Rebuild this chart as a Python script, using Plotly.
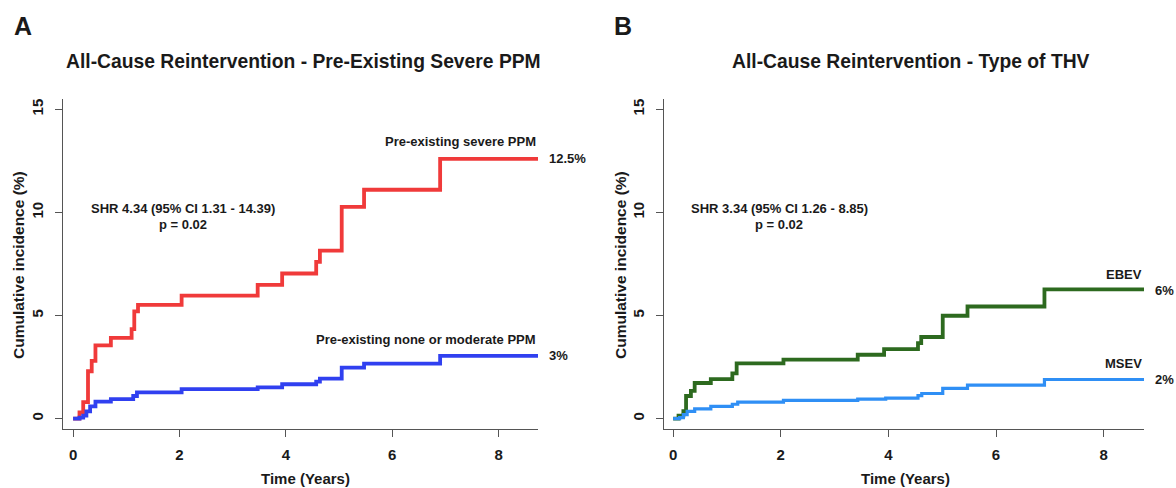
import plotly.graph_objects as go

# Panel A: Pre-existing severe PPM vs none/moderate
a_sev_t = [0.0, 0.12, 0.19, 0.28, 0.35, 0.42, 0.71, 1.10, 1.15, 1.22, 2.04, 3.47, 3.93, 4.57, 4.64, 5.05, 5.47, 6.90, 8.74]
a_sev_y = [0.0, 0.3, 0.8, 2.3, 2.8, 3.55, 3.92, 4.34, 5.2, 5.52, 5.97, 6.49, 7.04, 7.6, 8.15, 10.27, 11.1, 12.6, 12.6]
a_mod_t = [0.0, 0.12, 0.19, 0.25, 0.32, 0.42, 0.71, 1.13, 1.20, 2.04, 3.47, 3.93, 4.57, 4.64, 5.05, 5.47, 6.90, 8.74]
a_mod_y = [0.0, 0.05, 0.15, 0.35, 0.6, 0.83, 0.95, 1.1, 1.28, 1.43, 1.52, 1.67, 1.8, 1.94, 2.48, 2.67, 3.05, 3.05]

# Panel B: EBEV vs MSEV
b_ebev_t = [0.0, 0.10, 0.19, 0.24, 0.33, 0.40, 0.70, 1.10, 1.18, 2.05, 3.43, 3.92, 4.55, 4.61, 5.01, 5.47, 6.90, 8.75]
b_ebev_y = [0.0, 0.15, 0.36, 1.1, 1.35, 1.73, 1.92, 2.2, 2.68, 2.86, 3.1, 3.37, 3.66, 3.96, 4.99, 5.44, 6.27, 6.27]
b_msev_t = [0.0, 0.12, 0.19, 0.26, 0.40, 0.70, 1.10, 1.20, 2.05, 3.43, 3.95, 4.55, 4.62, 5.01, 5.47, 6.90, 8.75]
b_msev_y = [0.0, 0.05, 0.2, 0.35, 0.48, 0.6, 0.7, 0.8, 0.89, 0.95, 1.0, 1.12, 1.22, 1.47, 1.63, 1.9, 1.9]

x_ticks = [0, 2, 4, 6, 8]
y_ticks = [0, 5, 10, 15]

W, H = 1176, 488
FONT = "Liberation Sans, Arial, sans-serif"
TXT = "#1a1a1a"

fig = go.Figure()

def step(x, y, color, width, xa, ya):
    fig.add_trace(go.Scatter(x=x, y=y, mode="lines", line=dict(color=color, width=width, shape="hv"),
                             xaxis=xa, yaxis=ya, showlegend=False, hoverinfo="skip"))

step(a_sev_t, a_sev_y, "#f03a3a", 3.8, "x", "y")
step(a_mod_t, a_mod_y, "#3040f0", 3.8, "x", "y")
step(b_ebev_t, b_ebev_y, "#2d6a1f", 3.8, "x2", "y2")
step(b_msev_t, b_msev_y, "#2f8ff5", 3.2, "x2", "y2")

def px_x(a, b):
    return [a / W, b / W]

def px_y(top, bottom):
    return [1 - bottom / H, 1 - top / H]

axis_common = dict(showline=True, linecolor="#555555", linewidth=1.3, ticks="outside", ticklen=7,
                   tickcolor="#555555", tickwidth=1.2, showgrid=False, zeroline=False,
                   tickfont=dict(family=FONT, size=15, color=TXT), fixedrange=True)

fig.update_layout(
    width=W, height=H, margin=dict(l=0, r=0, t=0, b=0),
    paper_bgcolor="white", plot_bgcolor="white",
    xaxis=dict(domain=px_x(63, 538), range=[-0.19, 8.74], tickvals=x_ticks,
               ticktext=[f"<b>{v}</b>" for v in x_ticks], anchor="y", ticklabelstandoff=5, **axis_common),
    yaxis=dict(domain=px_y(99, 429), range=[-0.5, 15.5], tickvals=y_ticks,
               ticktext=[f"<b>{v}</b>" for v in y_ticks], tickangle=-90, anchor="x", ticklabelstandoff=6, **axis_common),
    xaxis2=dict(domain=px_x(664, 1144), range=[-0.17, 8.75], tickvals=x_ticks,
                ticktext=[f"<b>{v}</b>" for v in x_ticks], anchor="y2", ticklabelstandoff=5, **axis_common),
    yaxis2=dict(domain=px_y(99, 429), range=[-0.5, 15.5], tickvals=y_ticks,
                ticktext=[f"<b>{v}</b>" for v in y_ticks], tickangle=-90, anchor="x2", ticklabelstandoff=6, **axis_common),
)

anns = []
def pa(text, x, y, size, xanchor="center", yanchor="middle", angle=0):
    anns.append(dict(text=text, x=x / W, y=1 - y / H, xref="paper", yref="paper", showarrow=False,
                     xanchor=xanchor, yanchor=yanchor, textangle=angle,
                     font=dict(family=FONT, size=size, color=TXT)))

def da(text, x, y, xr, yr, size=13, xanchor="center"):
    anns.append(dict(text=text, x=x, y=y, xref=xr, yref=yr, showarrow=False, xanchor=xanchor,
                     yanchor="middle", font=dict(family=FONT, size=size, color=TXT)))

# Panel letters and titles
pa("<b>A</b>", 12, 26, 25, xanchor="left")
pa("<b>B</b>", 612, 26, 25, xanchor="left")
pa("<b>All-Cause Reintervention - Pre-Existing Severe PPM</b>", 303, 61, 19.3)
pa("<b>All-Cause Reintervention - Type of THV</b>", 911, 61, 19.3)

# Axis titles
pa("<b>Cumulative incidence (%)</b>", 18, 265, 15.5, angle=-90)
pa("<b>Cumulative incidence (%)</b>", 620, 265, 15.5, angle=-90)
pa("<b>Time (Years)</b>", 305, 478, 15)
pa("<b>Time (Years)</b>", 905, 478, 15)

# Panel A annotations
da("<b>SHR 4.34 (95% CI 1.31 - 14.39)</b>", 2.06, 10.2, "x", "y")
da("<b>p = 0.02</b>", 2.06, 9.4, "x", "y")
da("<b>Pre-existing severe PPM</b>", 8.74, 13.43, "x", "y", xanchor="right")
pa("<b>12.5%</b>", 547, 159, 13, xanchor="left")
da("<b>Pre-existing none or moderate PPM</b>", 8.74, 3.83, "x", "y", xanchor="right")
pa("<b>3%</b>", 547, 355, 13, xanchor="left")

# Panel B annotations
da("<b>SHR 3.34 (95% CI 1.26 - 8.85)</b>", 1.97, 10.2, "x2", "y2")
da("<b>p = 0.02</b>", 1.97, 9.4, "x2", "y2")
da("<b>EBEV</b>", 8.75, 7.0, "x2", "y2", xanchor="right")
pa("<b>6%</b>", 1153, 290, 13, xanchor="left")
da("<b>MSEV</b>", 8.75, 2.66, "x2", "y2", xanchor="right")
pa("<b>2%</b>", 1153, 379, 13, xanchor="left")

fig.update_layout(annotations=anns)
fig.write_html("out.html", config={"displayModeBar": False},
               post_script="document.body.style.margin='0px';document.body.style.overflow='hidden';")
